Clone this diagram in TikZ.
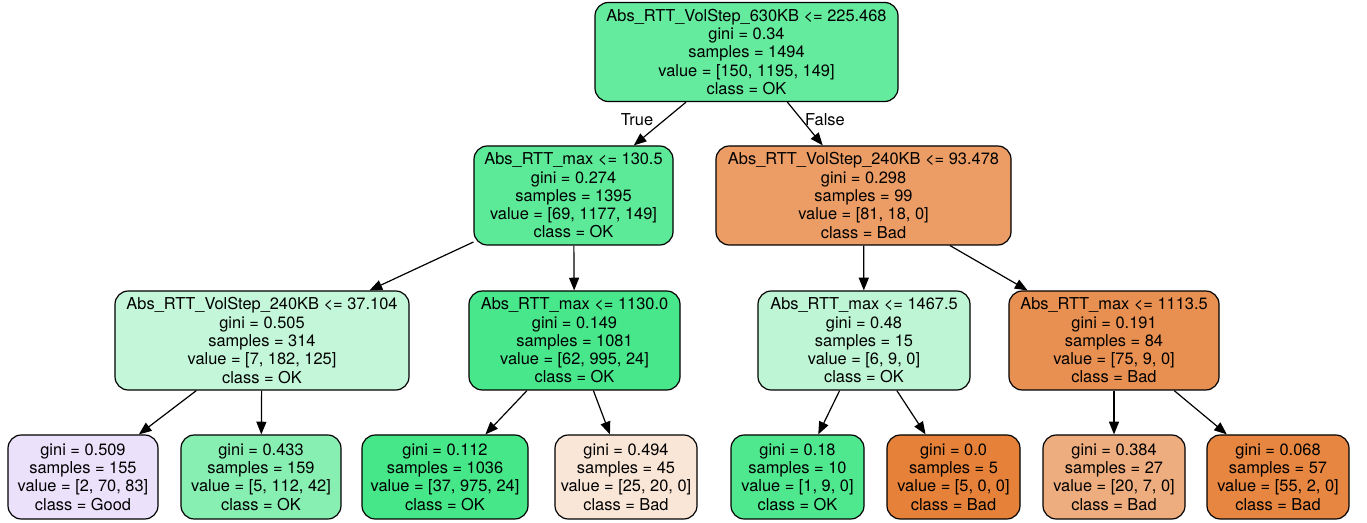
\documentclass[tikz,border=0pt]{standalone}
\usepackage{fontspec}
\setmainfont{TeX Gyre Heros}
\usetikzlibrary{arrows.meta}

\definecolor{bad}{RGB}{229,129,57}
\definecolor{ok}{RGB}{57,229,129}
\definecolor{good}{RGB}{129,57,229}

\begin{document}
\begin{tikzpicture}[
    x=0.75pt, y=-0.75pt,
    every node/.style={align=center},
    split/.style={draw, rounded corners=10pt, line width=0.9pt, inner sep=0pt,
        minimum height=74.25pt, font=\fontsize{12.3}{13.7}\selectfont},
    leaf/.style={split, minimum height=63pt},
    edge/.style={-{Triangle[length=9.5pt, width=7.5pt]}, line width=0.9pt},
    elabel/.style={font=\fontsize{12.3}{13.7}\selectfont}
]
\useasboundingbox (0,0) rectangle (1367,523);

% root
\node[split, fill=ok!78!white, minimum width=227.25pt] (root) at (746.5,52)
    {Abs\_RTT\_VolStep\_630KB <= 225.468\\gini = 0.34\\samples = 1494\\value = [150, 1195, 149]\\class = OK};

% depth 1
\node[split, fill=ok!82!white, minimum width=149.25pt] (n1) at (573.5,195.5)
    {Abs\_RTT\_max <= 130.5\\gini = 0.274\\samples = 1395\\value = [69, 1177, 149]\\class = OK};
\node[split, fill=bad!78!white, minimum width=221.25pt] (n8) at (863.5,195.5)
    {Abs\_RTT\_VolStep\_240KB <= 93.478\\gini = 0.298\\samples = 99\\value = [81, 18, 0]\\class = Bad};

% depth 2
\node[split, fill=ok!30!white, minimum width=220.5pt] (n2) at (262,340.5)
    {Abs\_RTT\_VolStep\_240KB <= 37.104\\gini = 0.505\\samples = 314\\value = [7, 182, 125]\\class = OK};
\node[split, fill=ok!92!white, minimum width=158.25pt] (n5) at (574.5,340.5)
    {Abs\_RTT\_max <= 1130.0\\gini = 0.149\\samples = 1081\\value = [62, 995, 24]\\class = OK};
\node[split, fill=ok!33!white, minimum width=159pt] (n9) at (864,340.5)
    {Abs\_RTT\_max <= 1467.5\\gini = 0.48\\samples = 15\\value = [6, 9, 0]\\class = OK};
\node[split, fill=bad!88!white, minimum width=157.5pt] (n12) at (1114,340.5)
    {Abs\_RTT\_max <= 1113.5\\gini = 0.191\\samples = 84\\value = [75, 9, 0]\\class = Bad};

% leaves
\node[leaf, fill=good!15!white, minimum width=112.5pt] (n3) at (83,477)
    {gini = 0.509\\samples = 155\\value = [2, 70, 83]\\class = Good};
\node[leaf, fill=ok!60!white, minimum width=120pt] (n4) at (261,477)
    {gini = 0.433\\samples = 159\\value = [5, 112, 42]\\class = OK};
\node[leaf, fill=ok!94!white, minimum width=124.5pt] (n6) at (445,477)
    {gini = 0.112\\samples = 1036\\value = [37, 975, 24]\\class = OK};
\node[leaf, fill=bad!20!white, minimum width=106.5pt] (n7) at (626,477)
    {gini = 0.494\\samples = 45\\value = [25, 20, 0]\\class = Bad};
\node[leaf, fill=ok!89!white, minimum width=99.75pt] (n10) at (797.5,477)
    {gini = 0.18\\samples = 10\\value = [1, 9, 0]\\class = OK};
\node[leaf, fill=bad!100!white, minimum width=99.75pt] (n11) at (953.5,477)
    {gini = 0.0\\samples = 5\\value = [5, 0, 0]\\class = Bad};
\node[leaf, fill=bad!65!white, minimum width=106.5pt] (n13) at (1114,477)
    {gini = 0.384\\samples = 27\\value = [20, 7, 0]\\class = Bad};
\node[leaf, fill=bad!96!white, minimum width=106.5pt] (n14) at (1278,477)
    {gini = 0.068\\samples = 57\\value = [55, 2, 0]\\class = Bad};

% edges
\draw[edge] (root) -- (n1);
\draw[edge] (root) -- (n8);
\draw[edge] (n1) -- (n2);
\draw[edge] (n1) -- (n5);
\draw[edge] (n8) -- (n9);
\draw[edge] (n8) -- (n12);
\draw[edge] (n2) -- (n3);
\draw[edge] (n2) -- (n4);
\draw[edge] (n5) -- (n6);
\draw[edge] (n5) -- (n7);
\draw[edge] (n9) -- (n10);
\draw[edge] (n9) -- (n11);
\draw[edge] (n12) -- (n13);
\draw[edge] (n12) -- (n14);

% edge labels
\node[elabel] (ltrue) at (637,120) {True};
\node[elabel] (lfalse) at (825,120) {False};

\end{tikzpicture}
\end{document}
